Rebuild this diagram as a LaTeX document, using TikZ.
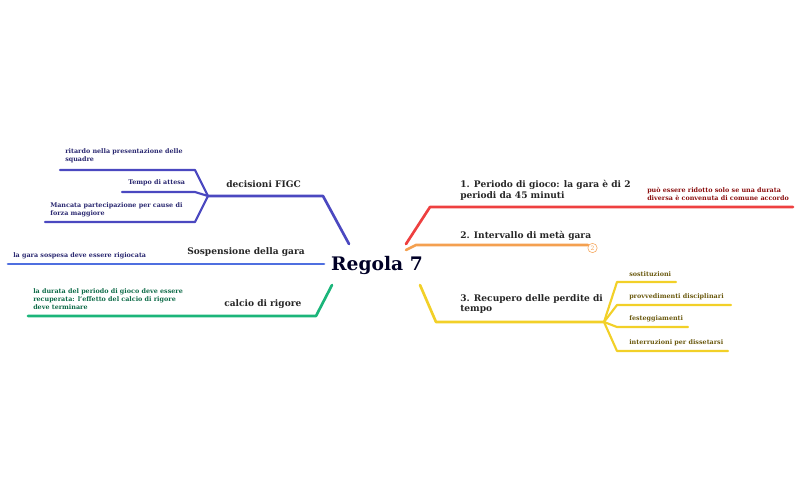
\documentclass[tikz,border=0pt]{standalone}
\usepackage{fontspec}
\setmainfont{DejaVu Serif}
\begin{document}
\begin{tikzpicture}[x=0.75pt,y=-0.75pt,
  br/.style={line width=2pt,line join=round,line cap=round},
  sub/.style={line width=1.6pt,line join=round,line cap=round},
  lab/.style={font=\bfseries\fontsize{6.8}{8}\selectfont,anchor=west,inner sep=0pt,align=left,text=black!85},
  sl/.style={font=\bfseries\fontsize{4.8}{6}\selectfont,anchor=west,inner sep=0pt,align=left}]
\useasboundingbox (0,0) rectangle (801,496);
\definecolor{cb}{HTML}{4B48C0}\definecolor{cs}{HTML}{4F6FE0}\definecolor{cg}{HTML}{1BB57A}
\definecolor{cr}{HTML}{EE4040}\definecolor{co}{HTML}{F4A050}\definecolor{cy}{HTML}{F2D028}
\definecolor{ty}{HTML}{6B5A10}\definecolor{tr}{HTML}{8B1010}\definecolor{tb}{HTML}{2A2870}\definecolor{tg}{HTML}{0E6B48}
\node[font=\bfseries\fontsize{14}{16}\selectfont,text=black!85!blue] (root) at (377,265) {Regola 7};
% left
\coordinate (hb) at (208,196);
\draw[br,cb] (349,244) -- (323,196) -- (hb);
\node[lab] (dF) at (226,184) {decisioni FIGC};
\draw[sub,cb] (hb) -- (195,170) -- (60,170);
\draw[sub,cb] (hb) -- (195,192) -- (122,192);
\draw[sub,cb] (hb) -- (195,222) -- (45,222);
\node[sl,text=tb] (c1) at (65,156) {ritardo nella presentazione delle\\squadre};
\node[sl,text=tb] (c2) at (128,183) {Tempo di attesa};
\node[sl,text=tb] (c3) at (50,210) {Mancata partecipazione per cause di\\forza maggiore};
\draw[br,cs] (324,264) -- (8,264);
\node[lab] (sg) at (187,252) {Sospensione della gara};
\node[sl,text=tb] (c4) at (13,256) {la gara sospesa deve essere rigiocata};
\draw[br,cg] (332,285) -- (316,316) -- (28,316);
\node[lab] (cr0) at (224,304) {calcio di rigore};
\node[sl,text=tg] (c5) at (33,299) {la durata del periodo di gioco deve essere\\recuperata: l'effetto del calcio di rigore\\deve terminare};
% right
\draw[br,cr] (406,244) -- (430,207) -- (793,207);
\node[lab] (p1) at (460,190) {1. Periodo di gioco: la gara è di 2\\periodi da 45 minuti};
\node[sl,text=tr] (c6) at (647,194) {può essere ridotto solo se una durata\\diversa è convenuta di comune accordo};
\draw[br,co] (406,250) -- (416,245) -- (588,245);
\node[lab] (p2) at (460,236) {2. Intervallo di metà gara};
\node[draw=co,circle,inner sep=0pt,minimum size=7pt,text=co,font=\fontsize{4.5}{5}\selectfont] (n2) at (592.5,248) {2};
\draw[br,cy] (420,285) -- (436,322) -- (604,322);
\node[lab] (p3) at (460,304) {3. Recupero delle perdite di\\tempo};
\coordinate (hy) at (604,322);
\draw[sub,cy] (hy) -- (617,282) -- (676,282);
\draw[sub,cy] (hy) -- (617,305) -- (731,305);
\draw[sub,cy] (hy) -- (617,327) -- (688,327);
\draw[sub,cy] (hy) -- (617,351) -- (728,351);
\node[sl,text=ty] (y1) at (629,274) {sostituzioni};
\node[sl,text=ty] (y2) at (629,297) {provvedimenti disciplinari};
\node[sl,text=ty] (y3) at (629,319) {festeggiamenti};
\node[sl,text=ty] (y4) at (629,343) {interruzioni per dissetarsi};
\end{tikzpicture}
\end{document}
